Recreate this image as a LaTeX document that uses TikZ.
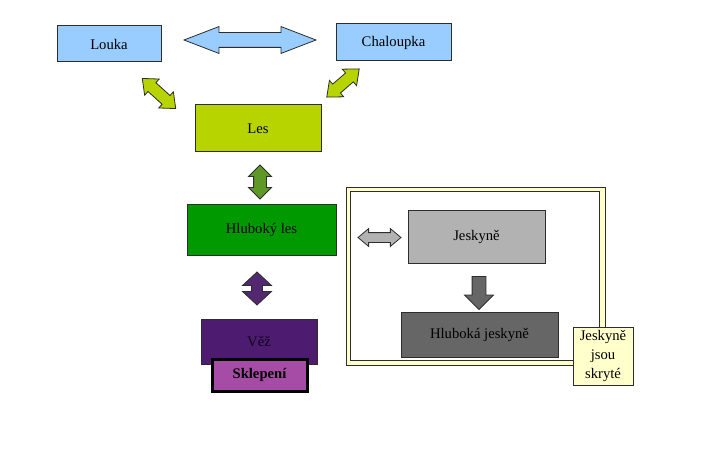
\documentclass[tikz,border=0pt]{standalone}
\usepackage{fontspec}
\setmainfont{Liberation Serif}
\usepackage{tikz}
\usetikzlibrary{shapes.arrows}
\newlength{\px}
\setlength{\px}{0.75pt}
\definecolor{clrSky}{RGB}{153,204,255}
\definecolor{clrLime}{RGB}{183,211,0}
\definecolor{clrForest}{RGB}{0,153,0}
\definecolor{clrMoss}{RGB}{94,152,38}
\definecolor{clrTower}{RGB}{77,27,112}
\definecolor{clrTowerArr}{RGB}{84,40,112}
\definecolor{clrCellar}{RGB}{166,76,166}
\definecolor{clrCave}{RGB}{178,178,178}
\definecolor{clrDeep}{RGB}{102,102,102}
\definecolor{clrCream}{RGB}{255,255,204}
\definecolor{clrLine}{RGB}{45,45,45}
\tikzset{
  place/.style={rectangle,draw=clrLine,line width=1\px,inner sep=0pt,
    font=\fontsize{11}{13}\selectfont},
  blk/.style={draw=clrLine,line width=0.8\px,inner sep=0pt,
    shape border rotate=0},
  dbl/.style={blk,double arrow,double arrow head indent=0pt},
  sgl/.style={blk,single arrow,single arrow head indent=0pt},
  note/.style={rectangle,draw=clrLine,line width=1\px,fill=clrCream,
    align=center,font=\fontsize{11}{14}\selectfont,inner sep=0pt}
}
\begin{document}
\begin{tikzpicture}[x=1\px,y=-1\px]
  \useasboundingbox (0,0) rectangle (704,460);
  % places
  \node[place,fill=clrSky,minimum width=104\px,minimum height=36\px] (louka) at (109,44) {Louka};
  \node[place,fill=clrSky,minimum width=115\px,minimum height=37\px] (chaloupka) at (393.5,42.5) {Chaloupka};
  \node[place,fill=clrLime,minimum width=126\px,minimum height=47\px] (les) at (258,128.5) {Les};
  \node[place,fill=clrForest,minimum width=149\px,minimum height=51\px] (hlubles) at (261.5,229.5) {Hlubok\'y les};
  \node[place,fill=clrTower,text=black!80!clrTower,minimum width=116\px,minimum height=45\px] (vez) at (259,341.5) {V\v{e}\v{z}};
  \node[place,fill=clrCellar,draw=black,line width=3\px,minimum width=95\px,minimum height=32\px,font=\fontsize{11}{13}\selectfont\bfseries] (sklepeni) at (259.5,375) {Sklepen\'i};
  % hidden caves
  \draw[clrLine,line width=1\px,fill=clrCream] (346,187) rectangle (605,365);
  \draw[clrLine,line width=1\px,fill=white] (350.5,191.5) rectangle (599.5,360.5);
  \node[place,fill=clrCave,minimum width=137\px,minimum height=53\px] (jeskyne) at (476.5,236.5) {Jeskyn\v{e}};
  \node[place,fill=clrDeep,minimum width=157\px,minimum height=45\px] (hlubjes) at (479.5,334.5) {Hlubok\'a jeskyn\v{e}};
  \node[note,minimum width=60\px,minimum height=58\px] (pozn) at (603,356) {Jeskyn\v{e}\\jsou\\skryt\'e};
  % block arrows
  \node[dbl,fill=clrSky,minimum height=132\px,minimum width=26\px,inner sep=7\px,
    double arrow head extend=6\px,double arrow tip angle=42] (aLC) at (250,40) {};
  \node[dbl,fill=clrLime,rotate=-42,minimum height=45\px,minimum width=21\px,inner sep=5.5\px,
    double arrow head extend=5\px,double arrow tip angle=80] (aLL) at (159,93.5) {};
  \node[dbl,fill=clrLime,rotate=41,minimum height=43\px,minimum width=21\px,inner sep=5.5\px,
    double arrow head extend=5\px,double arrow tip angle=80] (aCL) at (343,83) {};
  \node[dbl,fill=clrMoss,rotate=90,minimum height=34\px,minimum width=22\px,inner sep=6\px,
    double arrow head extend=5\px,double arrow tip angle=90] (aLH) at (260,182) {};
  \node[dbl,fill=clrTowerArr,rotate=90,minimum height=33\px,minimum width=28\px,inner sep=5\px,
    double arrow head extend=9\px,double arrow tip angle=94] (aHV) at (257,288.5) {};
  \node[dbl,fill=clrCave,minimum height=43\px,minimum width=17\px,inner sep=4.5\px,
    double arrow head extend=4\px,double arrow tip angle=80] (aJ) at (379.5,237.5) {};
  \node[sgl,fill=clrDeep,rotate=-90,minimum height=33\px,minimum width=28\px,inner sep=6.5\px,
    single arrow head extend=7.5\px,single arrow tip angle=90] (aJH) at (479,289.5) {};
\end{tikzpicture}
\end{document}
